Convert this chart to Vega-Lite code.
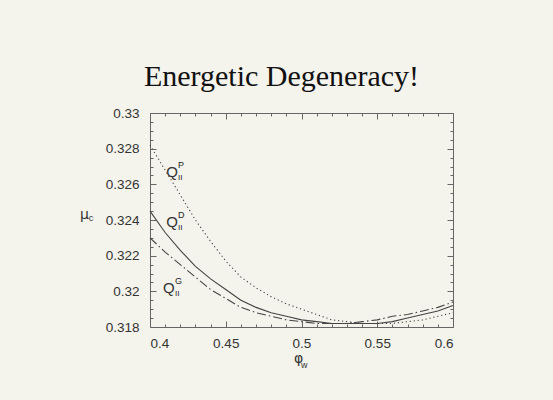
{
  "$schema": "https://vega.github.io/schema/vega-lite/v6.json",
  "description": "Energetic degeneracy: mu_c versus phi_w for three Q_II phases",
  "width": 303,
  "height": 214,
  "autosize": {"type": "none"},
  "padding": {"left": 150, "top": 113, "right": 100, "bottom": 73},
  "background": "#f4f3ec",
  "title": {
    "text": "Energetic Degeneracy!",
    "font": "Liberation Serif",
    "fontSize": 30,
    "fontWeight": "normal",
    "color": "#111111",
    "anchor": "middle",
    "dx": -20,
    "offset": 14
  },
  "datasets": {
    "curves": [
      {"phi": 0.40, "mu": 0.3282, "series": "P"},
      {"phi": 0.41, "mu": 0.3268, "series": "P"},
      {"phi": 0.42, "mu": 0.3254, "series": "P"},
      {"phi": 0.43, "mu": 0.3240, "series": "P"},
      {"phi": 0.44, "mu": 0.3228, "series": "P"},
      {"phi": 0.45, "mu": 0.3217, "series": "P"},
      {"phi": 0.46, "mu": 0.3208, "series": "P"},
      {"phi": 0.47, "mu": 0.3202, "series": "P"},
      {"phi": 0.48, "mu": 0.3197, "series": "P"},
      {"phi": 0.49, "mu": 0.3193, "series": "P"},
      {"phi": 0.50, "mu": 0.3190, "series": "P"},
      {"phi": 0.51, "mu": 0.3187, "series": "P"},
      {"phi": 0.52, "mu": 0.3184, "series": "P"},
      {"phi": 0.53, "mu": 0.3183, "series": "P"},
      {"phi": 0.54, "mu": 0.3182, "series": "P"},
      {"phi": 0.55, "mu": 0.3182, "series": "P"},
      {"phi": 0.56, "mu": 0.3182, "series": "P"},
      {"phi": 0.57, "mu": 0.3183, "series": "P"},
      {"phi": 0.58, "mu": 0.3184, "series": "P"},
      {"phi": 0.59, "mu": 0.3186, "series": "P"},
      {"phi": 0.60, "mu": 0.3188, "series": "P"},
      {"phi": 0.40, "mu": 0.3245, "series": "D"},
      {"phi": 0.41, "mu": 0.3233, "series": "D"},
      {"phi": 0.42, "mu": 0.3223, "series": "D"},
      {"phi": 0.43, "mu": 0.3214, "series": "D"},
      {"phi": 0.44, "mu": 0.3207, "series": "D"},
      {"phi": 0.45, "mu": 0.3201, "series": "D"},
      {"phi": 0.46, "mu": 0.3195, "series": "D"},
      {"phi": 0.47, "mu": 0.3191, "series": "D"},
      {"phi": 0.48, "mu": 0.3188, "series": "D"},
      {"phi": 0.49, "mu": 0.3186, "series": "D"},
      {"phi": 0.50, "mu": 0.3184, "series": "D"},
      {"phi": 0.51, "mu": 0.3183, "series": "D"},
      {"phi": 0.52, "mu": 0.3182, "series": "D"},
      {"phi": 0.53, "mu": 0.3182, "series": "D"},
      {"phi": 0.54, "mu": 0.3182, "series": "D"},
      {"phi": 0.55, "mu": 0.3182, "series": "D"},
      {"phi": 0.56, "mu": 0.3183, "series": "D"},
      {"phi": 0.57, "mu": 0.3185, "series": "D"},
      {"phi": 0.58, "mu": 0.3187, "series": "D"},
      {"phi": 0.59, "mu": 0.3189, "series": "D"},
      {"phi": 0.60, "mu": 0.3192, "series": "D"},
      {"phi": 0.40, "mu": 0.3230, "series": "G"},
      {"phi": 0.41, "mu": 0.3222, "series": "G"},
      {"phi": 0.42, "mu": 0.3215, "series": "G"},
      {"phi": 0.43, "mu": 0.3208, "series": "G"},
      {"phi": 0.44, "mu": 0.3201, "series": "G"},
      {"phi": 0.45, "mu": 0.3196, "series": "G"},
      {"phi": 0.46, "mu": 0.3191, "series": "G"},
      {"phi": 0.47, "mu": 0.3188, "series": "G"},
      {"phi": 0.48, "mu": 0.3186, "series": "G"},
      {"phi": 0.49, "mu": 0.3184, "series": "G"},
      {"phi": 0.50, "mu": 0.3183, "series": "G"},
      {"phi": 0.51, "mu": 0.3182, "series": "G"},
      {"phi": 0.52, "mu": 0.3182, "series": "G"},
      {"phi": 0.53, "mu": 0.3182, "series": "G"},
      {"phi": 0.54, "mu": 0.3183, "series": "G"},
      {"phi": 0.55, "mu": 0.3184, "series": "G"},
      {"phi": 0.56, "mu": 0.3186, "series": "G"},
      {"phi": 0.57, "mu": 0.3187, "series": "G"},
      {"phi": 0.58, "mu": 0.3189, "series": "G"},
      {"phi": 0.59, "mu": 0.3191, "series": "G"},
      {"phi": 0.60, "mu": 0.3194, "series": "G"}
    ],
    "labels": [
      {"series": "P", "phi": 0.4145, "mu": 0.3267},
      {"series": "D", "phi": 0.4145, "mu": 0.3239},
      {"series": "G", "phi": 0.4125, "mu": 0.3202}
    ]
  },
  "layer": [
    {
      "data": {"name": "curves"},
      "transform": [{"filter": "datum.series === 'P'"}],
      "mark": {"type": "line", "color": "#444444", "strokeWidth": 1.1, "strokeDash": [1.2, 2.8]},
      "encoding": {
        "x": {
          "field": "phi", "type": "quantitative",
          "scale": {"domain": [0.4, 0.6], "nice": false, "zero": false},
          "axis": {
            "orient": "bottom", "values": [0.4, 0.45, 0.5, 0.55, 0.6], "format": ".2~f",
            "ticks": false, "domain": false, "grid": false, "labelPadding": 9,
            "title": "φ", "titleX": 148, "titleY": 31, "titleAlign": "center",
            "titleBaseline": "middle", "titleFontSize": 14, "titleFontWeight": "normal"
          }
        },
        "y": {
          "field": "mu", "type": "quantitative",
          "scale": {"domain": [0.318, 0.33], "nice": false, "zero": false},
          "axis": {
            "orient": "left", "values": [0.318, 0.32, 0.322, 0.324, 0.326, 0.328, 0.33], "format": ".3~f",
            "ticks": false, "domain": false, "grid": false, "labelPadding": 11,
            "title": "μ", "titleAngle": 0, "titleX": -66, "titleY": 101, "titleAlign": "center",
            "titleBaseline": "middle", "titleFontSize": 14, "titleFontWeight": "normal"
          }
        }
      }
    },
    {
      "data": {"name": "curves"},
      "transform": [{"filter": "datum.series === 'D'"}],
      "mark": {"type": "line", "color": "#444444", "strokeWidth": 1.1},
      "encoding": {
        "x": {
          "field": "phi", "type": "quantitative",
          "axis": {"orient": "bottom", "values": [0.4, 0.45, 0.5, 0.55, 0.6], "labels": false, "domain": false, "grid": false, "tickSize": -6, "title": null}
        },
        "y": {
          "field": "mu", "type": "quantitative",
          "axis": {"orient": "left", "values": [0.318, 0.32, 0.322, 0.324, 0.326, 0.328, 0.33], "labels": false, "domain": false, "grid": false, "tickSize": -6, "title": null}
        }
      }
    },
    {
      "data": {"name": "curves"},
      "transform": [{"filter": "datum.series === 'G'"}],
      "mark": {"type": "line", "color": "#444444", "strokeWidth": 1.1, "strokeDash": [9, 3, 1.5, 3]},
      "encoding": {
        "x": {
          "field": "phi", "type": "quantitative",
          "axis": {"orient": "bottom", "values": [0.41, 0.42, 0.43, 0.44, 0.46, 0.47, 0.48, 0.49, 0.51, 0.52, 0.53, 0.54, 0.56, 0.57, 0.58, 0.59], "labels": false, "domain": false, "grid": false, "tickSize": -3, "title": null}
        },
        "y": {
          "field": "mu", "type": "quantitative",
          "axis": {"orient": "left", "values": [0.3185, 0.319, 0.3195, 0.3205, 0.321, 0.3215, 0.3225, 0.323, 0.3235, 0.3245, 0.325, 0.3255, 0.3265, 0.327, 0.3275, 0.3285, 0.329, 0.3295], "labels": false, "domain": false, "grid": false, "tickSize": -3, "title": null}
        }
      }
    },
    {
      "data": {"name": "labels"},
      "mark": {"type": "text", "font": "Liberation Sans", "fontSize": 15, "color": "#333333", "align": "center", "baseline": "middle"},
      "encoding": {
        "x": {
          "field": "phi", "type": "quantitative",
          "axis": {"orient": "top", "values": [0.4, 0.45, 0.5, 0.55, 0.6], "labels": false, "domain": false, "grid": false, "tickSize": -6, "title": null}
        },
        "y": {
          "field": "mu", "type": "quantitative",
          "axis": {"orient": "right", "values": [0.318, 0.32, 0.322, 0.324, 0.326, 0.328, 0.33], "labels": false, "domain": false, "grid": false, "tickSize": -6, "title": null}
        },
        "text": {"value": "Q"}
      }
    },
    {
      "data": {"name": "labels"},
      "mark": {"type": "text", "font": "Liberation Sans", "fontSize": 9, "color": "#222222", "align": "left", "baseline": "middle", "dx": 6, "dy": -7},
      "encoding": {
        "x": {
          "field": "phi", "type": "quantitative",
          "axis": {"orient": "top", "values": [0.41, 0.42, 0.43, 0.44, 0.46, 0.47, 0.48, 0.49, 0.51, 0.52, 0.53, 0.54, 0.56, 0.57, 0.58, 0.59], "labels": false, "domain": false, "grid": false, "tickSize": -3, "title": null}
        },
        "y": {
          "field": "mu", "type": "quantitative",
          "axis": {"orient": "right", "values": [0.3185, 0.319, 0.3195, 0.3205, 0.321, 0.3215, 0.3225, 0.323, 0.3235, 0.3245, 0.325, 0.3255, 0.3265, 0.327, 0.3275, 0.3285, 0.329, 0.3295], "labels": false, "domain": false, "grid": false, "tickSize": -3, "title": null}
        },
        "text": {"field": "series"}
      }
    },
    {
      "data": {"name": "labels"},
      "mark": {"type": "text", "font": "Liberation Sans", "fontSize": 8, "color": "#222222", "align": "left", "baseline": "middle", "dx": 6, "dy": 6},
      "encoding": {
        "x": {"field": "phi", "type": "quantitative", "axis": null},
        "y": {"field": "mu", "type": "quantitative", "axis": null},
        "text": {"value": "II"}
      }
    },
    {
      "data": {"values": [{"sub": "c"}]},
      "mark": {"type": "text", "font": "Liberation Sans", "fontSize": 9, "color": "#333333", "align": "center", "baseline": "middle", "dx": -59, "dy": 5},
      "encoding": {
        "x": {"datum": 0.4, "type": "quantitative", "axis": null},
        "y": {"datum": 0.3244, "type": "quantitative", "axis": null},
        "text": {"field": "sub"}
      }
    },
    {
      "data": {"values": [{"sub": "w"}]},
      "mark": {"type": "text", "font": "Liberation Sans", "fontSize": 9, "color": "#333333", "align": "center", "baseline": "middle", "dx": 5, "dy": 38},
      "encoding": {
        "x": {"datum": 0.4985, "type": "quantitative", "axis": null},
        "y": {"datum": 0.318, "type": "quantitative", "axis": null},
        "text": {"field": "sub"}
      }
    }
  ],
  "resolve": {"axis": {"x": "independent", "y": "independent"}},
  "config": {
    "view": {"stroke": "#666666", "strokeWidth": 1},
    "axis": {
      "labelFont": "Liberation Sans",
      "labelFontSize": 13.5,
      "labelColor": "#333333",
      "titleFont": "DejaVu Sans",
      "titleColor": "#333333",
      "tickColor": "#666666",
      "tickWidth": 1
    },
    "text": {"font": "Liberation Sans"}
  }
}
